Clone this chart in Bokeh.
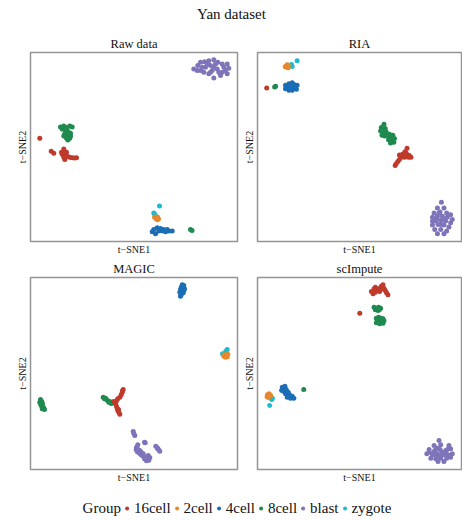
from bokeh.plotting import figure
from bokeh.layouts import column, row
from bokeh.models import Range1d, Legend, LegendItem, FixedTicker, Label
from bokeh.embed import file_html
from bokeh.resources import INLINE

# ---- groups and colours ----
GROUPS = ["16cell", "2cell", "4cell", "8cell", "blast", "zygote"]
COLORS = ["#C03A2B", "#E6872D", "#1B6DB5", "#1F8A4E", "#7E74BA", "#19BCD0"]
DRAW_ORDER = ["blast", "zygote", "2cell", "4cell", "8cell", "16cell"]

PANEL_TITLES = ["Raw data", "RIA", "MAGIC", "scImpute"]
LEGEND_TITLE = "Group"

# ---- t-SNE embeddings (arbitrary units) ----
# Raw data
raw_16cell_x = [9.3, 20.7, 23.3, 33.3, 32.7, 31.7, 35.0, 33.3, 34.3, 37.3, 39.3, 41.7, 44.0, 46.0, 36.0, 31.0]
raw_16cell_y = [105.0, 91.7, 89.7, 94.0, 90.7, 88.3, 89.0, 85.7, 83.3, 86.3, 85.7, 85.0, 84.7, 85.0, 90.7, 90.7]
raw_2cell_x = [125.0, 127.0, 126.0, 128.0, 124.0, 127.0]
raw_2cell_y = [24.0, 25.0, 23.0, 23.0, 25.0, 22.0]
raw_4cell_x = [123.3, 121.7, 126.7, 128.3, 125.0, 133.3, 135.0, 138.3, 141.7, 131.7, 136.7, 130.0]
raw_4cell_y = [12.3, 10.0, 14.0, 10.7, 8.0, 12.3, 10.0, 10.7, 10.7, 10.7, 12.3, 13.3]
raw_8cell_x = [30.0, 33.3, 36.7, 39.3, 41.7, 31.7, 35.0, 35.0, 38.3, 36.7, 33.3, 40.0, 36.0, 39.3, 37.3, 37.0, 34.0, 40.0, 160.0, 161.5]
raw_8cell_y = [116.3, 117.3, 115.7, 117.3, 116.3, 114.0, 114.0, 110.7, 110.7, 108.3, 107.3, 107.3, 105.0, 105.0, 103.0, 112.0, 109.0, 110.0, 12.3, 11.3]
raw_blast_x = [163.3, 167.3, 170.0, 174.0, 178.3, 183.3, 187.3, 191.7, 196.7, 198.3, 195.0, 196.7, 190.0, 183.3, 178.3,
               173.3, 170.0, 175.0, 180.0, 183.3, 186.7, 181.7, 176.7, 188.3, 191.7, 171.7, 185.0, 180.0, 193.3, 166.7]
raw_blast_y = [175.3, 178.7, 182.0, 182.7, 183.7, 184.7, 182.0, 180.3, 180.3, 176.0, 173.7, 170.3, 168.7, 166.0, 170.3,
               172.0, 173.7, 177.0, 178.7, 177.0, 175.3, 173.7, 180.3, 172.0, 172.0, 177.0, 180.3, 172.0, 177.0, 173.7]
raw_zygote_x = [129.0, 123.3, 124.5]
raw_zygote_y = [36.0, 29.0, 27.5]

# RIA
ria_16cell_x = [9.3, 151.0, 149.0, 146.7, 143.3, 151.7, 155.0, 152.3, 148.3, 145.0, 141.7, 140.0, 139.0, 143.3, 150.0, 153.3]
ria_16cell_y = [156.0, 94.7, 91.3, 89.0, 88.0, 88.0, 85.7, 85.7, 85.7, 85.7, 81.3, 79.0, 77.3, 83.3, 90.0, 87.3]
ria_2cell_x = [29.0, 30.0, 31.0, 30.0, 28.0, 31.0]
ria_2cell_y = [178.0, 177.0, 179.0, 179.5, 177.5, 176.5]
ria_4cell_x = [28.3, 31.7, 35.0, 37.3, 40.0, 30.0, 33.3, 36.7, 39.3, 31.7, 35.0, 28.3]
ria_4cell_y = [158.7, 160.3, 161.3, 159.3, 158.7, 156.0, 157.0, 156.0, 154.7, 153.7, 153.7, 155.3]
ria_8cell_x = [18.3, 17.3, 127.7, 125.0, 129.0, 124.3, 126.7, 130.0, 125.7, 128.3, 133.3, 136.7, 134.3, 138.3, 132.3,
               135.7, 137.7, 134.3, 131.7, 127.7]
ria_8cell_y = [157.7, 157.0, 119.0, 115.7, 114.7, 112.3, 110.7, 111.3, 108.0, 107.3, 109.0, 108.0, 105.7, 104.7, 103.3,
               102.3, 100.7, 100.0, 107.3, 114.0]
ria_blast_x = [185.7, 181.7, 188.3, 178.3, 184.3, 191.0, 176.7, 181.7, 186.7, 191.7, 195.0, 180.0, 185.0, 190.0, 195.0,
               176.7, 182.3, 188.3, 193.3, 179.0, 185.0, 191.0, 181.7, 188.3, 183.3, 187.7, 181.0, 185.7, 196.7, 176.7]
ria_blast_y = [40.0, 34.0, 34.0, 29.0, 30.0, 29.0, 24.7, 25.7, 25.7, 24.7, 27.3, 20.7, 21.3, 20.7, 19.0,
               16.7, 17.3, 16.7, 14.7, 12.3, 12.3, 10.7, 8.0, 8.0, 29.0, 22.3, 23.3, 17.3, 22.3, 20.7]
ria_zygote_x = [34.3, 40.0, 35.0]
ria_zygote_y = [179.7, 183.7, 177.8]

# MAGIC
magic_16cell_x = [92.7, 91.7, 90.7, 89.3, 87.3, 86.0, 85.0, 86.0, 86.7, 87.3, 88.3, 89.3, 83.3, 84.7, 92.0, 88.0]
magic_16cell_y = [80.0, 77.3, 74.7, 72.3, 70.7, 68.7, 65.7, 63.3, 61.3, 59.0, 57.3, 55.3, 68.0, 66.7, 78.7, 60.0]
magic_2cell_x = [194.0, 196.0, 197.3, 195.0, 193.3, 196.7]
magic_2cell_y = [114.7, 114.0, 115.3, 112.3, 113.3, 112.7]
magic_4cell_x = [151.7, 153.3, 150.7, 152.7, 150.0, 154.0, 151.7, 149.3, 152.7, 150.7, 150.0, 153.3]
magic_4cell_y = [184.7, 184.0, 182.3, 181.3, 180.0, 180.7, 179.0, 177.3, 176.7, 174.7, 173.3, 178.7]
magic_8cell_x = [10.0, 11.3, 9.3, 12.0, 10.7, 12.7, 11.7, 13.3, 10.0, 14.0,
                 72.7, 74.0, 76.0, 77.3, 79.3, 81.7, 83.3, 75.0, 78.3, 80.7]
magic_8cell_y = [70.0, 68.0, 67.3, 65.7, 64.0, 62.3, 60.7, 61.3, 65.7, 60.0,
                 72.3, 70.7, 70.0, 68.7, 68.0, 67.3, 66.7, 71.3, 67.3, 66.0]
magic_blast_x = [102.7, 103.3, 104.3, 114.0, 114.7, 107.3, 106.0, 105.7, 106.7, 108.3, 110.0, 111.7, 113.3, 115.3, 116.7,
                 118.3, 119.3, 117.7, 109.3, 112.7, 125.3, 126.7, 128.0, 129.3, 127.3, 106.7, 108.0, 114.0, 116.0, 110.7]
magic_blast_y = [38.0, 36.0, 34.0, 27.3, 26.7, 24.7, 22.3, 20.0, 18.0, 16.7, 15.3, 14.0, 12.7, 11.3, 10.0,
                 9.3, 12.0, 14.0, 19.0, 15.7, 23.3, 21.7, 20.0, 18.3, 20.7, 21.3, 19.3, 10.7, 8.7, 17.3]
magic_zygote_x = [196.7, 192.0, 195.3]
magic_zygote_y = [120.0, 115.7, 118.3]

# scImpute
scimpute_16cell_x = [115.0, 117.7, 119.0, 121.0, 123.3, 125.0, 126.7, 127.7, 129.0, 130.3, 131.7, 116.7, 119.0, 122.3, 125.7, 103.3]
scimpute_16cell_y = [178.0, 180.7, 182.3, 180.0, 178.0, 183.3, 184.7, 181.3, 179.0, 176.7, 174.7, 175.7, 177.3, 180.7, 180.7, 156.3]
scimpute_2cell_x = [10.0, 11.7, 12.3, 9.7, 11.0, 13.3]
scimpute_2cell_y = [74.7, 75.7, 73.3, 72.7, 72.0, 74.0]
scimpute_4cell_x = [25.0, 27.7, 24.3, 26.7, 29.0, 31.0, 28.3, 32.3, 35.0, 36.7, 30.0, 33.3]
scimpute_4cell_y = [82.3, 83.3, 79.0, 78.0, 80.0, 77.3, 75.7, 74.7, 73.3, 71.3, 72.3, 71.3]
scimpute_8cell_x = [117.7, 120.0, 122.3, 124.3, 119.0, 121.7, 123.3, 121.0, 120.0, 122.3, 125.0, 126.7, 121.0, 124.3,
                    127.7, 120.0, 123.3, 126.7, 121.7, 46.7]
scimpute_8cell_y = [162.3, 161.3, 162.3, 161.3, 159.7, 159.0, 160.0, 160.7, 151.3, 152.3, 151.3, 150.7, 149.0, 149.0,
                    148.7, 146.7, 145.7, 146.3, 148.0, 80.0]
scimpute_blast_x = [183.3, 178.3, 185.0, 193.3, 173.3, 179.0, 184.3, 190.0, 195.0, 171.0, 176.7, 181.7, 187.7, 192.3, 196.7,
                    175.0, 180.0, 185.0, 191.0, 195.0, 182.3, 188.3, 173.3, 186.7, 181.0, 190.0, 177.7, 183.3, 191.7, 181.7]
scimpute_blast_y = [29.0, 24.0, 24.7, 24.0, 20.0, 19.0, 20.0, 19.0, 20.7, 15.7, 14.7, 15.7, 14.7, 14.7, 15.7,
                    11.3, 10.7, 11.3, 11.3, 12.3, 8.0, 8.0, 17.3, 17.3, 13.3, 15.7, 16.7, 14.0, 20.0, 21.3]
scimpute_zygote_x = [15.0, 12.3, 14.3]
scimpute_zygote_y = [71.3, 64.0, 70.0]

FONT = "Liberation Serif"
TEXT_COLOR = "#111111"
Y_SPAN = 192
POINT_SIZE = 5.0
NAN = float("nan")


def group_table(prefix):
    ns = globals()
    xs = {g: ns[f"{prefix}_{g}_x"] for g in GROUPS}
    ys = {g: ns[f"{prefix}_{g}_y"] for g in GROUPS}
    return xs, ys


def make_panel(title, prefix, width, height, left, right, top, bottom):
    x_span = width - left - right
    p = figure(width=width, height=height, title=title,
               x_range=Range1d(0, x_span), y_range=Range1d(0, Y_SPAN),
               output_backend="svg", toolbar_location=None,
               min_border_left=left, min_border_right=right,
               min_border_top=top, min_border_bottom=bottom)
    p.title.align = "center"
    p.title.text_font = FONT
    p.title.text_font_size = "12.5px"
    p.title.text_font_style = "normal"
    p.title.text_color = TEXT_COLOR
    p.title.standoff = 3
    p.grid.visible = False
    p.outline_line_color = "#959595"
    p.outline_line_width = 1.5
    p.background_fill_color = "white"
    p.border_fill_color = "white"
    p.xaxis.axis_label = "t\u2212SNE1"
    p.yaxis.axis_label = "t\u2212SNE2"
    for ax in (p.xaxis[0], p.yaxis[0]):
        ax.ticker = FixedTicker(ticks=[])
        ax.axis_line_color = None
        ax.major_tick_line_color = None
        ax.minor_tick_line_color = None
        ax.major_tick_out = 0
        ax.major_tick_in = 0
        ax.minor_tick_out = 0
        ax.minor_tick_in = 0
        ax.major_label_standoff = 0
        ax.major_label_text_font_size = "0px"
        ax.axis_label_text_font = FONT
        ax.axis_label_text_font_size = "10px"
        ax.axis_label_text_font_style = "normal"
        ax.axis_label_text_color = TEXT_COLOR
    p.xaxis.axis_label_standoff = 2
    p.yaxis.axis_label_standoff = 3
    xs, ys = group_table(prefix)
    for g in DRAW_ORDER:
        c = COLORS[GROUPS.index(g)]
        p.scatter(xs[g], ys[g], size=POINT_SIZE, fill_color=c, line_color=None)
    return p


p1 = make_panel(PANEL_TITLES[0], "raw", 240, 227, 30, 3, 22, 13)
p2 = make_panel(PANEL_TITLES[1], "ria", 222, 227, 15, 1, 22, 13)
p3 = make_panel(PANEL_TITLES[2], "magic", 240, 239, 30, 3, 20, 27)
p4 = make_panel(PANEL_TITLES[3], "scimpute", 222, 239, 15, 1, 20, 27)

# overall heading
header = figure(width=462, height=30, x_range=Range1d(0, 462), y_range=Range1d(0, 30),
                output_backend="svg", toolbar_location=None, min_border=0)
header.axis.visible = False
header.grid.visible = False
header.outline_line_color = None
header.add_layout(Label(x=231, y=17, text="Yan dataset", text_align="center", text_baseline="middle",
                        text_font=FONT, text_font_size="15px", text_color=TEXT_COLOR))

# shared legend: keys are legend-only glyphs (no visible data)
lf = figure(width=462, height=24, x_range=Range1d(0, 1), y_range=Range1d(0, 1),
            output_backend="svg", toolbar_location=None, min_border=0)
lf.axis.visible = False
lf.grid.visible = False
lf.outline_line_color = None
title_key = lf.scatter(x=[NAN], y=[NAN], size=POINT_SIZE, fill_alpha=0, line_alpha=0)
items = [LegendItem(label=LEGEND_TITLE, renderers=[title_key])]
for g, c in zip(GROUPS, COLORS):
    r = lf.scatter(x=[NAN], y=[NAN], size=POINT_SIZE, fill_color=c, line_color=None)
    items.append(LegendItem(label=g, renderers=[r]))
legend = Legend(items=items, orientation="horizontal", location="center",
                label_text_font=FONT, label_text_font_size="15px", label_text_color=TEXT_COLOR,
                glyph_width=10, glyph_height=10, label_standoff=2, spacing=1, padding=0, margin=0,
                label_height=18, border_line_color=None, background_fill_alpha=0)
lf.add_layout(legend, "center")

layout = column(header, row(p1, p2), row(p3, p4), lf)
open("out.html", "w").write(file_html(layout, INLINE))
